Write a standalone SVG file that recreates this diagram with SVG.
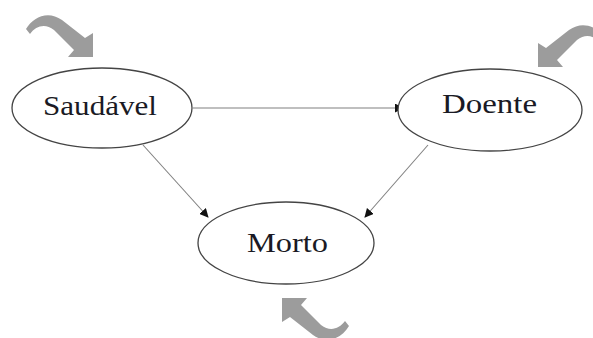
<svg xmlns="http://www.w3.org/2000/svg" width="593" height="338" viewBox="0 0 593 338">
<style>
.node ellipse{fill:#fff;stroke:#444;stroke-width:1.3}
.node text{font-family:"Liberation Serif","Times New Roman",serif;font-size:27px;fill:#1a1a24;text-anchor:middle}
.edge{stroke:#808080;stroke-width:1.1;fill:none;marker-end:url(#ah)}
.big{fill:#9c9c9c}
</style>
<defs>
<marker id="ah" viewBox="0 0 10 10" refX="9" refY="5" markerWidth="9" markerHeight="9" markerUnits="userSpaceOnUse" orient="auto">
<path d="M0 0 L10 5 L0 10 Z" fill="#111"/>
</marker>
<path id="bigArrow" d="M -67 -28 C -60 -40, -45 -47, -31 -37 L -8 -19 L 0 -24 L 0 0 L -25 0 L -19 -7 L -39 -27 C -48 -34, -57 -31, -63 -23 Z"/>
</defs>
<g id="connectors">
<line class="edge" x1="193" y1="108" x2="403" y2="108"/>
<line class="edge" x1="143" y1="145" x2="208" y2="217"/>
<line class="edge" x1="428" y1="145" x2="365" y2="217"/>
</g>
<g id="node-saudavel" class="node">
<ellipse cx="102" cy="108" rx="90" ry="40"/>
<text x="100" y="115" textLength="114" lengthAdjust="spacingAndGlyphs">Saudável</text>
</g>
<g id="node-doente" class="node">
<ellipse cx="490" cy="110" rx="92" ry="41"/>
<text x="489.5" y="113" textLength="95" lengthAdjust="spacingAndGlyphs">Doente</text>
</g>
<g id="node-morto" class="node">
<ellipse cx="286" cy="243" rx="88" ry="41"/>
<text x="287.5" y="252" textLength="81" lengthAdjust="spacingAndGlyphs">Morto</text>
</g>
<g id="input-arrows" class="big">
<use href="#bigArrow" transform="translate(93,57)"/>
<use href="#bigArrow" transform="translate(538,67) scale(-1,1)"/>
<use href="#bigArrow" transform="translate(282,298) rotate(180)"/>
</g>
</svg>
